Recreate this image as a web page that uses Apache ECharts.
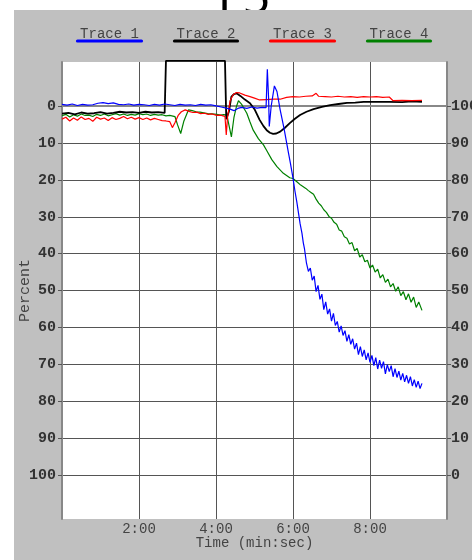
<!DOCTYPE html>
<html>
<head>
<meta charset="utf-8">
<script src="https://cdn.jsdelivr.net/npm/echarts@6/dist/echarts.min.js"></script>
<style>
html,body{margin:0;padding:0;background:#fff;}
#c{width:472px;height:560px;}
</style>
</head>
<body>
<div id="c"></div>
<script>
// ---- data (time in seconds, value in percent) ----
const traceNames = ['Trace 1', 'Trace 2', 'Trace 3', 'Trace 4'];
const traceColors = ['#0000ff', '#000000', '#ff0000', '#008000'];

const t1 = [0,8,16,24,32,40,48,56,64,72,80,88,96,104,112,120,128,136,144,152,160,168,176,184,192,200,208,216,224,232,240,248,256,262,268,274,280,288,296,304,312,318,320,322,323,326,331,335,340,346,353,356,360,363,366,369,371,374,376,378,381,384,387,390,393,396,399,402,405,408,411,414,417,420,423,426,429,432,435,438,441,444,447,450,453,456,459,462,465,468,471,474,477,480,483,486,489,492,495,498,501,504,507,510,513,516,519,522,525,528,531,534,537,540,543,546,549,552,555,558,561];
const v1 = [-0.5,-0.3,-0.6,-0.2,-0.5,-0.3,-0.4,-0.8,-1.0,-0.7,-0.9,-0.5,-0.4,-0.6,-0.3,-0.5,-0.4,-0.2,-0.5,-0.3,-0.6,-0.4,-0.2,-0.5,-0.3,-0.4,-0.2,-0.5,-0.3,-0.4,-0.1,0.2,0.5,0.8,1.2,0.6,0.3,0.6,0.2,0.5,0.3,0.4,-10,-2,5.5,0,-5.5,-4,1,6,12.7,15.5,19.5,23,26,29.5,31.8,34.5,37,38.8,42.6,44.8,43.9,47.2,46.1,50.3,48.6,52.4,51.0,55.2,53.1,56.4,55.0,58.3,56.2,59.5,58.4,61.3,59.6,62.2,60.9,63.8,62.0,64.6,63.1,65.9,64.3,67.4,65.2,67.9,66.1,68.8,66.9,69.5,67.6,70.4,68.2,71.3,68.9,71.1,69.3,72.6,70.1,72.0,70.4,73.4,71.2,73.6,71.9,74.3,72.5,74.8,73.0,75.2,73.4,75.9,74.2,76.3,74.6,76.6,75.2];

const t2 = [0,10,20,30,40,50,60,70,80,90,100,110,120,130,140,150,160,162,254,256,260,264,268,272,278,285,293,300,308,314,319,324,329,334,340,347,355,363,371,381,392,405,418,431,444,457,470,490,510,530,545,561];
const v2 = [2.0,1.8,2.2,1.7,2.0,1.9,1.6,2.0,1.8,1.5,1.7,1.6,1.8,1.5,1.7,1.6,1.8,-12.3,-12.3,3.5,1.5,-2.6,-3.3,-3.5,-2.8,-1.8,-0.8,0.8,3.7,5.4,6.5,7.2,7.5,7.4,6.9,5.9,4.6,3.4,2.4,1.5,0.8,0.2,-0.3,-0.6,-0.9,-1.0,-1.2,-1.2,-1.2,-1.1,-1.3,-1.2];

const t3 = [0,6,12,18,24,30,36,42,48,54,60,66,72,78,84,90,96,102,108,114,120,126,132,138,144,150,156,162,168,172,176,181,186,192,198,204,210,216,222,228,234,241,247,254,256,258,262,267,272,277,285,293,300,308,318,330,340,350,360,370,380,390,396,400,410,420,430,440,450,460,470,480,490,500,510,516,530,545,561];
const v3 = [3.5,3.0,4.0,3.2,3.8,2.9,3.6,3.3,4.1,3.0,3.5,3.2,3.9,3.1,3.6,3.3,2.8,3.4,3.0,3.5,3.1,3.6,3.2,3.7,3.3,3.6,3.9,4.0,4.2,5.8,4.5,2.5,1.5,1.0,1.4,1.7,1.6,2.0,1.9,2.2,2.1,2.5,2.4,2.8,7.8,3.0,-1.5,-3.2,-3.7,-3.6,-3.0,-2.6,-2.2,-1.7,-1.8,-1.9,-1.9,-2.4,-2.6,-2.5,-2.7,-2.8,-3.5,-2.7,-2.6,-2.5,-2.7,-2.5,-2.6,-2.4,-2.6,-2.5,-2.6,-2.4,-2.5,-1.5,-1.6,-1.5,-1.6];

const t4 = [0,6,12,18,24,30,36,42,48,54,60,66,72,78,84,90,96,102,108,114,120,126,132,138,144,150,156,162,168,176,180,185,190,197,203,209,215,221,227,234,241,247,252,257,260,264,268,272,275,280,288,293,298,306,314,319,327,335,345,355,360,366,372,380,384,388,392,396,400,404,408,412,416,420,424,428,432,436,440,444,448,452,456,460,464,468,472,476,480,484,488,492,496,500,504,508,512,516,520,524,528,532,536,540,544,548,552,556,561];
const v4 = [2.6,2.2,2.9,2.3,2.7,2.1,2.5,2.4,2.8,2.2,2.5,2.1,2.6,2.3,2.0,2.4,2.1,2.5,2.2,2.4,2.0,2.3,2.1,2.5,2.2,2.4,2.3,2.6,2.5,2.8,5.0,7.4,4.0,1.0,1.2,1.5,1.6,1.8,2.0,2.1,2.2,2.4,2.3,2.4,5.0,8.3,3.0,0,-1.5,-0.5,1.9,4.3,6.5,8.8,10.5,12,14.5,16.4,18.2,19.4,19.6,20.5,21.4,22.3,22.9,23.4,23.9,25.2,26.3,27.0,28.1,28.8,29.9,30.4,31.5,32.0,33.6,33.9,35.4,35.8,37.4,37.0,39.2,38.6,40.9,40.3,42.2,41.8,43.9,43.1,45.0,44.2,46.6,45.7,47.8,46.9,49.0,48.1,50.2,49.0,51.4,50.3,52.5,50.9,53.2,51.8,54.6,53.1,55.4];

const leftTicks = [0,10,20,30,40,50,60,70,80,90,100];
const timeTicks = [120,240,360,480];

// ---- chart ----
const chart = echarts.init(document.getElementById('c'), null, {renderer: 'canvas'});
const mono = 'Liberation Mono';
function zip(t, v){ return t.map((x,i)=>[x, v[i]]); }
function fmtTime(s){ const m = Math.floor(s/60); const ss = Math.round(s%60); return m + ':' + (ss<10?'0':'') + ss; }

const legendX = [[76,143],[173,239],[269,336],[366,432]];
const legendGraphics = [];
traceNames.forEach((n,i)=>{
  const [a,b] = legendX[i];
  legendGraphics.push({type:'text', z:10, style:{text:n, x:(a+b)/2, y:34, textAlign:'center', textVerticalAlign:'middle', font:'14px "Liberation Mono"', fill:'#444'}});
  legendGraphics.push({type:'line', z:10, shape:{x1:a+1.5, y1:41, x2:b-1.5, y2:41}, style:{stroke:traceColors[i], lineWidth:3.2, lineCap:'round'}});
});

const series = [zip(t1,v1), zip(t2,v2), zip(t3,v3), zip(t4,v4)].map((d,i)=>({
  name: traceNames[i], type:'line', data:d, showSymbol:false, symbol:'none',
  lineStyle:{color:traceColors[i], width: i===1 ? 1.8 : 1.2},
  itemStyle:{color:traceColors[i]},
  clip: i===1 ? false : true,
  z: [5,3,4,2][i]
}));

chart.setOption({
  animation:false,
  backgroundColor:'#ffffff',
  graphic:[
    {type:'text', z:-20, style:{text:'F5', x:244, y:24, textAlign:'center', textVerticalAlign:'bottom', font:'48px "Noto Sans"', fill:'#000'}},
    {type:'rect', z:-10, shape:{x:14, y:10, width:460, height:552}, style:{fill:'#c0c0c0'}},
    ...legendGraphics
  ],
  grid:{left:62, right:25, top:62, bottom:41, show:true, backgroundColor:'#ffffff', borderWidth:0, containLabel:false, outerBoundsMode:'none'},
  xAxis:{
    type:'value', min:0, max:600, interval:120,
    name:'Time (min:sec)', nameLocation:'middle', nameGap:17, nameMoveOverlap:false,
    nameTextStyle:{fontFamily:mono, fontSize:14, color:'#444'},
    axisLine:{show:true, lineStyle:{color:'#888', width:2}},
    axisTick:{show:false},
    axisLabel:{fontFamily:mono, fontSize:14, color:'#444', margin:3,
      formatter:(v)=> timeTicks.includes(v) ? fmtTime(v) : ''},
    splitLine:{show:true, lineStyle:{color:'#555', width:1}}
  },
  yAxis:[{
    type:'value', min:-12, max:112, inverse:true, position:'left',
    name:'Percent', nameLocation:'middle', nameGap:29, nameRotate:90, nameMoveOverlap:false,
    nameTextStyle:{fontFamily:mono, fontSize:15, color:'#444'},
    axisLine:{show:true, lineStyle:{color:'#888', width:2}},
    axisTick:{show:true, length:4, customValues:leftTicks, lineStyle:{color:'#555'}},
    axisLabel:{fontFamily:mono, fontSize:15, fontWeight:'bold', color:'#333', margin:6, customValues:leftTicks},
    splitLine:{show:true, lineStyle:{color:'#555', width:1}}
  },{
    type:'value', min:-12, max:112, inverse:true, position:'right',
    axisLine:{show:true, lineStyle:{color:'#888', width:2}},
    axisTick:{show:true, length:4, customValues:leftTicks, lineStyle:{color:'#555'}},
    axisLabel:{fontFamily:mono, fontSize:15, fontWeight:'bold', color:'#333', margin:4, customValues:leftTicks,
      formatter:(v)=> String(100 - v)},
    splitLine:{show:false}
  }],
  series: series
});
</script>
</body>
</html>
